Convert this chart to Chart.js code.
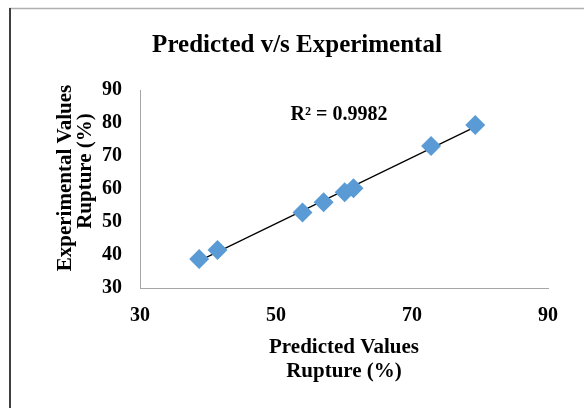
<!DOCTYPE html>
<html>
<head>
<meta charset="utf-8">
<script src="https://cdn.jsdelivr.net/npm/chart.js@4"></script>
<style>
    html, body { margin: 0; padding: 0; background: #fff; }
    #wrap { width: 584px; height: 408px; position: relative; }
</style>
</head>
<body>
<div id="wrap"><canvas id="chart" width="584" height="408"></canvas></div>
<script>
// Data
const predicted = [38.7, 41.4, 53.9, 57.0, 60.1, 61.4, 72.8, 79.3];
const experimental = [38.8, 41.5, 52.9, 56.0, 59.0, 60.2, 73.0, 79.4];
const xTicks = [30, 50, 70, 90];
const yTicks = [30, 40, 50, 60, 70, 80, 90];
const r2Label = 'R² = 0.9982';

const FONT = "'Liberation Serif', 'Times New Roman', serif";

// Least squares trendline over the data range
function trendline(xs, ys) {
    const n = xs.length;
    const mx = xs.reduce((a, b) => a + b, 0) / n;
    const my = ys.reduce((a, b) => a + b, 0) / n;
    let sxy = 0, sxx = 0;
    for (let i = 0; i < n; i++) {
        sxy += (xs[i] - mx) * (ys[i] - my);
        sxx += (xs[i] - mx) * (xs[i] - mx);
    }
    const slope = sxy / sxx;
    const icpt = my - slope * mx;
    const x0 = Math.min(...xs), x1 = Math.max(...xs);
    return [{ x: x0, y: icpt + slope * x0 }, { x: x1, y: icpt + slope * x1 }];
}

const points = predicted.map((x, i) => ({ x: x, y: experimental[i] }));

// Frame, titles and R² text
const decorPlugin = {
    id: 'decor',
    afterDraw(chart) {
        const ctx = chart.ctx;
        const area = chart.chartArea;
        ctx.save();
        // outer frame (top light, left dark)
        ctx.strokeStyle = '#b0b0b0';
        ctx.lineWidth = 1.5;
        ctx.beginPath();
        ctx.moveTo(9, 8.5);
        ctx.lineTo(584, 8.5);
        ctx.stroke();
        ctx.strokeStyle = '#404040';
        ctx.lineWidth = 2;
        ctx.beginPath();
        ctx.moveTo(10, 8);
        ctx.lineTo(10, 408);
        ctx.stroke();

        ctx.fillStyle = '#000';
        ctx.textAlign = 'center';
        ctx.textBaseline = 'middle';

        ctx.font = 'bold 25px ' + FONT;
        ctx.fillText('Predicted v/s Experimental', 297, 46);

        ctx.font = 'bold 21px ' + FONT;
        const cx = (area.left + area.right) / 2;
        ctx.fillText('Predicted Values', cx, 348);
        ctx.fillText('Rupture (%)', cx, 372);

        ctx.font = 'bold 20px ' + FONT;
        ctx.fillText(r2Label, 339, 115);

        ctx.font = 'bold 21px ' + FONT;
        ctx.translate(66, 178);
        ctx.rotate(-Math.PI / 2);
        ctx.fillText('Experimental Values', 0, 0);
        ctx.restore();

        ctx.save();
        ctx.fillStyle = '#000';
        ctx.textAlign = 'center';
        ctx.textBaseline = 'middle';
        ctx.font = 'bold 21px ' + FONT;
        ctx.translate(86, 171);
        ctx.rotate(-Math.PI / 2);
        ctx.fillText('Rupture (%)', 0, 0);
        ctx.restore();
    }
};

const ctx = document.getElementById('chart').getContext('2d');
new Chart(ctx, {
    type: 'scatter',
    data: {
        datasets: [
            {
                type: 'line',
                data: trendline(predicted, experimental),
                borderColor: '#000',
                borderWidth: 1.2,
                pointRadius: 0,
                fill: false,
                order: 2
            },
            {
                data: points,
                backgroundColor: '#5b9bd5',
                borderWidth: 0,
                pointStyle: 'rectRot',
                pointRadius: 10,
                order: 1
            }
        ]
    },
    options: {
        responsive: false,
        animation: false,
        events: [],
        layout: { padding: { top: 90, right: 36, left: 0, bottom: 0 } },
        plugins: {
            legend: { display: false },
            tooltip: { enabled: false }
        },
        scales: {
            x: {
                type: 'linear',
                min: xTicks[0],
                max: xTicks[xTicks.length - 1],
                afterBuildTicks: (s) => { s.ticks = xTicks.map(v => ({ value: v })); },
                afterFit: (s) => { s.height = 120; },
                grid: { display: false, drawTicks: false },
                border: { color: '#a6a6a6', width: 1 },
                ticks: {
                    padding: 16,
                    color: '#000',
                    font: { family: FONT, size: 20, weight: 'bold' },
                    maxRotation: 0
                }
            },
            y: {
                type: 'linear',
                min: yTicks[0],
                max: yTicks[yTicks.length - 1],
                afterBuildTicks: (s) => { s.ticks = yTicks.map(v => ({ value: v })); },
                afterFit: (s) => { s.width = 140; },
                grid: { display: false, drawTicks: false },
                border: { color: '#a6a6a6', width: 1 },
                ticks: {
                    padding: 18,
                    color: '#000',
                    font: { family: FONT, size: 20, weight: 'bold' }
                }
            }
        }
    },
    plugins: [decorPlugin]
});
</script>
</body>
</html>
